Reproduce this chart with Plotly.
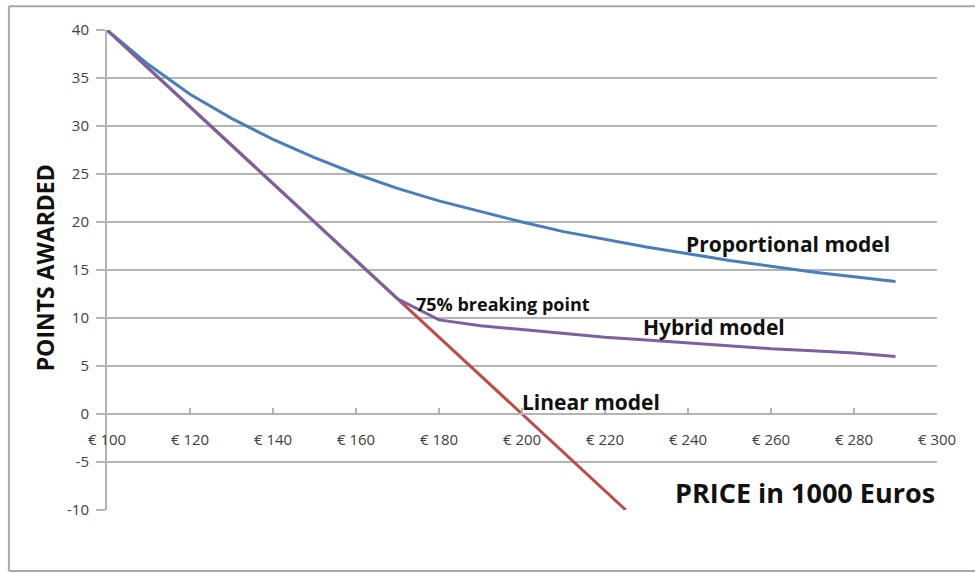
import plotly.graph_objects as go

price = [100, 110, 120, 130, 140, 150, 160, 170, 180, 190, 200, 210, 220, 230, 240, 250, 260, 270, 280, 290]
proportional = [40, 36.4, 33.3, 30.8, 28.6, 26.7, 25.0, 23.5, 22.2, 21.1, 20.0, 19.0, 18.2, 17.4, 16.7, 16.0, 15.4, 14.8, 14.3, 13.8]
hybrid = [40, 36, 32, 28, 24, 20, 16, 12, 9.8, 9.2, 8.8, 8.4, 8.0, 7.7, 7.4, 7.1, 6.8, 6.6, 6.35, 6.0]
linear_price = [100, 110, 120, 130, 140, 150, 160, 170, 180, 190, 200, 210, 220, 225]
linear = [40, 36, 32, 28, 24, 20, 16, 12, 8, 4, 0, -4, -8, -10]

x_ticks = [100, 120, 140, 160, 180, 200, 220, 240, 260, 280, 300]
y_ticks = [-10, -5, 0, 5, 10, 15, 20, 25, 30, 35, 40]

FONT = "'Open Sans', Lato, sans-serif"
GRID = "#b4b4b4"

fig = go.Figure()
fig.add_trace(go.Scatter(x=linear_price, y=linear, mode="lines",
                         line=dict(color="#be4b48", width=3), name="Linear model"))
fig.add_trace(go.Scatter(x=price, y=proportional, mode="lines",
                         line=dict(color="#4a7ebb", width=3), name="Proportional model"))
fig.add_trace(go.Scatter(x=price, y=hybrid, mode="lines",
                         line=dict(color="#7d60a0", width=3), name="Hybrid model"))

fig.update_layout(
    width=975, height=573,
    margin=dict(l=107, r=38, t=30, b=63),
    paper_bgcolor="white", plot_bgcolor="white",
    showlegend=False,
    font=dict(family=FONT, color="#404040"),
    xaxis=dict(range=[100, 300], tickvals=x_ticks, ticktext=[f"€ {v}" for v in x_ticks],
               showgrid=False, zeroline=False, showline=True, linecolor=GRID, linewidth=2,
               ticks="inside", ticklen=5, tickcolor=GRID, tickwidth=1.5,
               ticklabelstandoff=12,
               anchor="free", position=0.2, tickfont=dict(size=15, color="#404040")),
    yaxis=dict(range=[-10, 40], tickvals=y_ticks, ticktext=[str(v) for v in y_ticks],
               showgrid=True, gridcolor=GRID, gridwidth=2,
               zeroline=False, showline=True, linecolor=GRID, linewidth=2,
               ticks="outside", ticklen=9, tickcolor=GRID, tickwidth=1.5,
               ticklabelstandoff=4,
               tickfont=dict(size=15, color="#404040")),
)

# outer border (left, top, bottom)
fig.add_shape(type="line", xref="paper", yref="paper", x0=-0.1182, x1=-0.1182, y0=-0.127, y1=1.0495,
              line=dict(color="#a8a8a8", width=2), layer="below")
fig.add_shape(type="line", xref="paper", yref="paper", x0=-0.1182, x1=1.05, y0=1.0495, y1=1.0495,
              line=dict(color="#a8a8a8", width=2), layer="below")
fig.add_shape(type="line", xref="paper", yref="paper", x0=-0.1182, x1=1.05, y0=-0.127, y1=-0.127,
              line=dict(color="#a8a8a8", width=2), layer="below")

fig.add_annotation(text="<b>POINTS AWARDED</b>", xref="paper", yref="paper", x=-0.075, y=0.505,
                   xanchor="center", yanchor="middle",
                   textangle=-90, showarrow=False, font=dict(size=23, color="#111111", family=FONT))
fig.add_annotation(text="<b>PRICE in 1000 Euros</b>", x=300, y=-8.2, xanchor="right", showarrow=False,
                   font=dict(size=27, color="#111111", family=FONT))
fig.add_annotation(text="<b>Proportional model</b>", x=239.0, y=17.7, xanchor="left", showarrow=False,
                   font=dict(size=21, color="#111111", family=FONT))
fig.add_annotation(text="<b>Hybrid model</b>", x=228.6, y=9.1, xanchor="left", showarrow=False,
                   font=dict(size=21, color="#111111", family=FONT))
fig.add_annotation(text="<b>Linear model</b>", x=199.6, y=1.2, xanchor="left", showarrow=False,
                   font=dict(size=21, color="#111111", family=FONT))
fig.add_annotation(text="<b>75% breaking point</b>", x=174.0, y=11.5, xanchor="left", showarrow=False,
                   font=dict(size=18, color="#111111", family=FONT))

fig.write_html("out.html", config={"displayModeBar": False},
               post_script="document.body.style.margin='0px';")
